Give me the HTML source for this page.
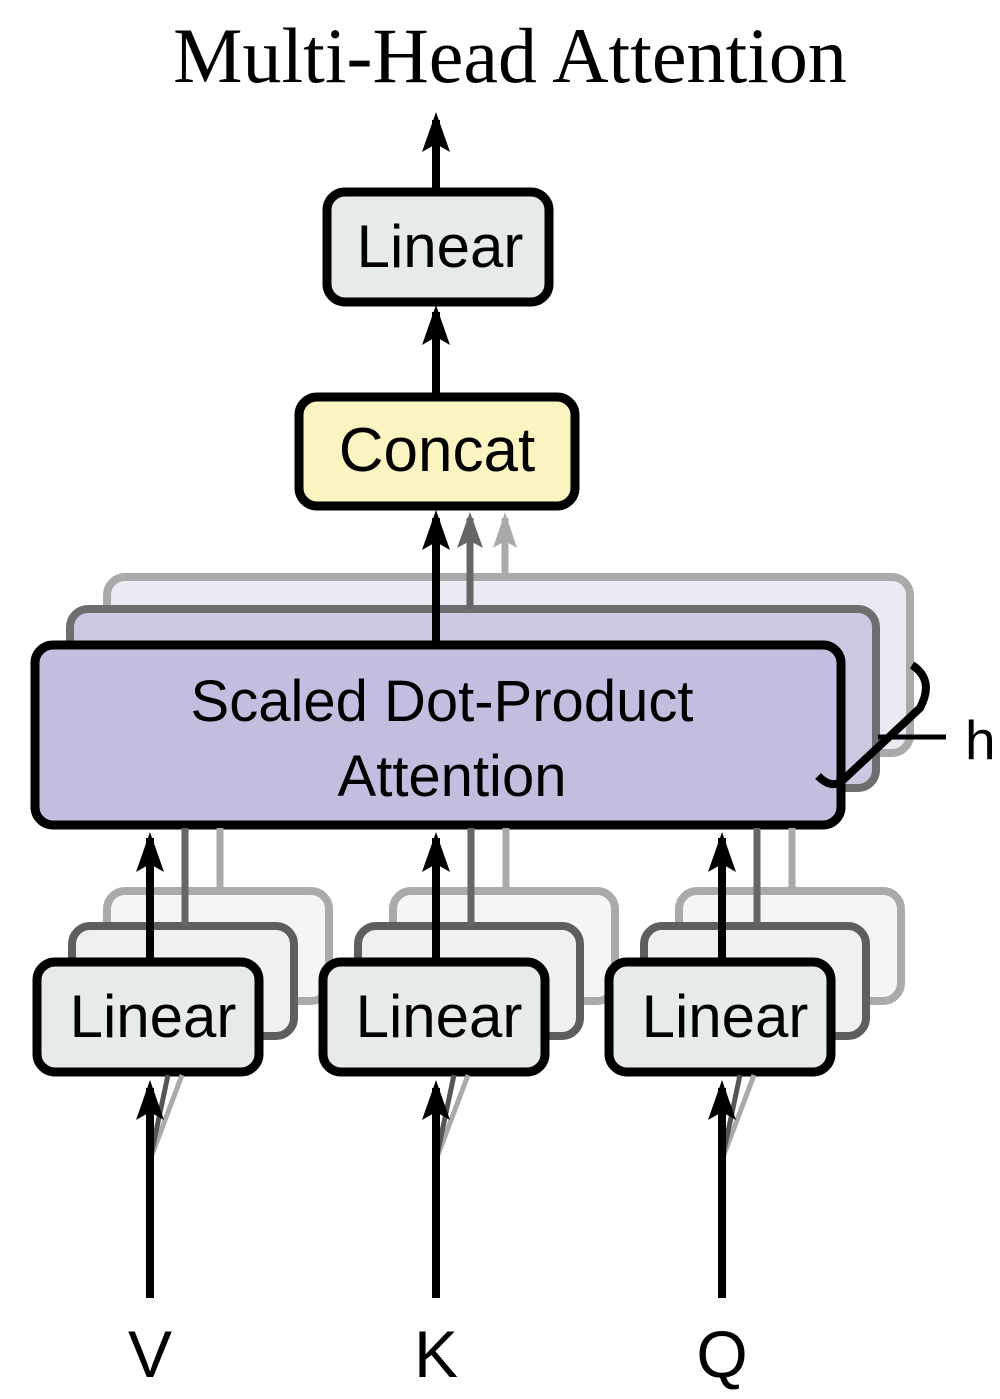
<!DOCTYPE html>
<html><head><style>
body{margin:0;background:#fff}
svg text{font-family:"Liberation Sans",sans-serif}
</style></head><body>
<svg width="1000" height="1394" viewBox="0 0 1000 1394" xmlns="http://www.w3.org/2000/svg">
<defs>
<marker id="ah" viewBox="0 0 10 10" refX="5" refY="1" markerWidth="5" markerHeight="8" orient="auto" markerUnits="userSpaceOnUse"><path d="M0 10 L5 0 L10 10 L5 7 Z"/></marker>
</defs>
<text x="510" y="82" font-size="78" text-anchor="middle" style="font-family:'Liberation Serif',serif">Multi-Head Attention</text>

<!-- top arrow -->
<line x1="436" y1="190" x2="436" y2="120" stroke="#000" stroke-width="8"/>
<path d="M422 152 L436 112 L450 152 L436 144 Z"/>
<rect x="327" y="192" width="222" height="110" rx="18" fill="#e6ebe9" stroke="#000" stroke-width="9"/>
<text x="440" y="267" font-size="60" text-anchor="middle">Linear</text>
<line x1="436" y1="393" x2="436" y2="312" stroke="#000" stroke-width="8"/>
<path d="M422 345 L436 305 L450 345 L436 337 Z"/>
<rect x="299" y="397" width="276" height="109" rx="18" fill="#faf5c0" stroke="#000" stroke-width="9"/>
<text x="437" y="471" font-size="62" text-anchor="middle">Concat</text>

<!-- SDPA stack -->
<rect x="107" y="577" width="803" height="176" rx="18" fill="#ebe9f4" stroke="#aaa" stroke-width="8"/>
<line x1="505" y1="577" x2="505" y2="518" stroke="#aaa" stroke-width="7"/>
<path d="M493 548 L505 512 L517 548 L505 541 Z" fill="#aaa"/>
<rect x="70" y="609" width="806" height="179" rx="18" fill="#cdc8e2" stroke="#6e6e6e" stroke-width="8"/>
<line x1="470" y1="609" x2="470" y2="518" stroke="#666" stroke-width="7"/>
<path d="M457 548 L470 512 L483 548 L470 541 Z" fill="#666"/>
<line x1="436" y1="645" x2="436" y2="518" stroke="#000" stroke-width="8"/>
<path d="M422 550 L436 510 L450 550 L436 542 Z"/>
<rect x="35" y="645" width="806" height="180" rx="18" fill="#c4bddf" stroke="#000" stroke-width="9"/>
<text x="442" y="721" font-size="58" text-anchor="middle">Scaled Dot-Product</text>
<text x="452" y="796" font-size="58" text-anchor="middle">Attention</text>
<path d="M912 665 Q935 680 920 708 L843 780 Q832 790 818 776" fill="none" stroke="#000" stroke-width="8"/>
<line x1="878" y1="737" x2="946" y2="737" stroke="#000" stroke-width="5"/>
<text x="965" y="759" font-size="55">h</text>

<!-- bottom linear stacks -->
<g id="col">
<rect x="107" y="891" width="222" height="110" rx="18" fill="#f4f6f5" stroke="#aaa" stroke-width="8"/>
<rect x="72" y="926" width="222" height="110" rx="18" fill="#eef1f0" stroke="#5e5e5e" stroke-width="8"/>
<line x1="220" y1="891" x2="220" y2="828" stroke="#aaa" stroke-width="7"/>
<line x1="185" y1="926" x2="185" y2="828" stroke="#666" stroke-width="7"/>
<line x1="150" y1="962" x2="150" y2="838" stroke="#000" stroke-width="8"/>
<path d="M136 872 L150 832 L164 872 L150 864 Z"/>
<rect x="37" y="962" width="222" height="110" rx="18" fill="#e6ebe9" stroke="#000" stroke-width="9"/>
<text x="153" y="1037" font-size="60" text-anchor="middle">Linear</text>
<line x1="150" y1="1160" x2="182" y2="1075" stroke="#aaa" stroke-width="5"/>
<line x1="150" y1="1160" x2="168" y2="1075" stroke="#555" stroke-width="5"/>
<line x1="150" y1="1298" x2="150" y2="1088" stroke="#000" stroke-width="8"/>
<path d="M136 1120 L150 1080 L164 1120 L150 1112 Z"/>
</g>
<use href="#col" transform="translate(286,0)"/>
<use href="#col" transform="translate(572,0)"/>

<text x="150" y="1377" font-size="66" text-anchor="middle">V</text>
<text x="436" y="1377" font-size="66" text-anchor="middle">K</text>
<text x="722" y="1377" font-size="66" text-anchor="middle">Q</text>
</svg>
</body></html>
